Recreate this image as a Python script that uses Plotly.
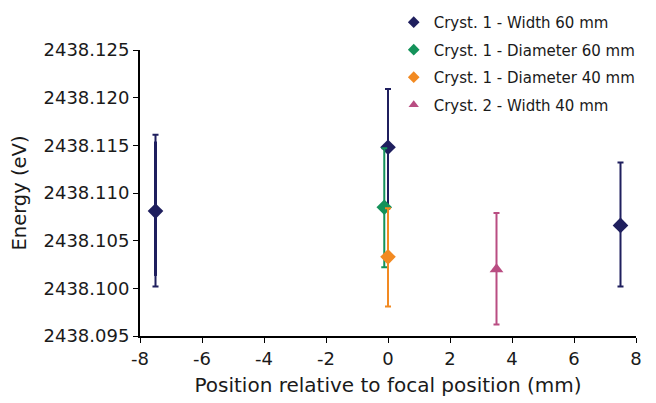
import plotly.graph_objects as go

# Data
w60_x = [-7.5, 0.0, 7.5]
w60_y = [2438.1081, 2438.1148, 2438.1066]
w60_err_plus = [0.0080, 0.0061, 0.0066]
w60_err_minus = [0.0079, 0.0063, 0.0064]
# inner (second) error bar at -7.5
w60_inner_x = [-7.5]
w60_inner_y = [2438.1081]
w60_inner_plus = [0.0073]
w60_inner_minus = [0.0068]

d60_x = [-0.12]
d60_y = [2438.1085]
d60_err_plus = [0.0062]
d60_err_minus = [0.0063]

d40_x = [0.0]
d40_y = [2438.1033]
d40_err_plus = [0.0051]
d40_err_minus = [0.0052]

c2w40_x = [3.5]
c2w40_y = [2438.1020]
c2w40_err_plus = [0.0059]
c2w40_err_minus = [0.0058]

series_names = ["Cryst. 1 - Width 60 mm", "Cryst. 1 - Diameter 60 mm",
                "Cryst. 1 - Diameter 40 mm", "Cryst. 2 - Width 40 mm"]

x_ticks = [-8, -6, -4, -2, 0, 2, 4, 6, 8]
x_ticktext = ["-8", "-6", "-4", "-2", "0", "2", "4", "6", "8"]
y_ticks = [2438.095, 2438.100, 2438.105, 2438.110, 2438.115, 2438.120, 2438.125]
y_ticktext = ["2438.095", "2438.100", "2438.105", "2438.110", "2438.115", "2438.120", "2438.125"]

NAVY = "#1f1f5e"
GREEN = "#14925a"
ORANGE = "#f28a22"
PINK = "#b94d82"

FONT = "DejaVu Sans, Verdana, sans-serif"

fig = go.Figure()

fig.add_trace(go.Scatter(
    x=w60_inner_x, y=w60_inner_y, mode="markers",
    marker=dict(size=1, color="rgba(0,0,0,0)"),
    error_y=dict(type="data", symmetric=False, array=w60_inner_plus, arrayminus=w60_inner_minus,
                 color=NAVY, thickness=3, width=0),
    showlegend=False, hoverinfo="skip"))

specs = [
    (w60_x, w60_y, w60_err_plus, w60_err_minus, NAVY, "diamond"),
    (d60_x, d60_y, d60_err_plus, d60_err_minus, GREEN, "diamond"),
    (d40_x, d40_y, d40_err_plus, d40_err_minus, ORANGE, "diamond"),
    (c2w40_x, c2w40_y, c2w40_err_plus, c2w40_err_minus, PINK, "triangle-up"),
]

for i, (xs, ys, ep, em, col, sym) in enumerate(specs):
    fig.add_trace(go.Scatter(
        x=xs, y=ys, mode="markers", name=series_names[i], showlegend=False,
        marker=dict(symbol=sym, size=12, color=col),
        error_y=dict(type="data", symmetric=False, array=ep, arrayminus=em,
                     color=col, thickness=2, width=3)))

# legend entries (smaller legend symbols, as in the original)
for i, (xs, ys, ep, em, col, sym) in enumerate(specs):
    fig.add_trace(go.Scatter(
        x=[None], y=[None], mode="markers", name=series_names[i], legendgroup=str(i),
        marker=dict(symbol=sym, size=9, color=col), hoverinfo="skip"))

fig.update_layout(
    width=656, height=403,
    margin=dict(l=132, r=28, t=42, b=75, autoexpand=False),
    paper_bgcolor="white", plot_bgcolor="white",
    font=dict(family=FONT, size=18, color="#1a1a1a"),
    legend=dict(x=0.588, y=1.154, xref="container", yref="paper", xanchor="left", yanchor="top",
                font=dict(size=15), bgcolor="rgba(0,0,0,0)", itemwidth=30, tracegroupgap=5,
                traceorder="grouped"),
    xaxis=dict(range=[-8, 8], tickvals=x_ticks, ticktext=x_ticktext, showgrid=False, zeroline=False,
               showline=True, linecolor="black", linewidth=2,
               ticks="outside", ticklen=5, tickcolor="black", tickwidth=1,
               title=dict(text="Position relative to focal position (mm)", font=dict(size=20), standoff=10)),
    yaxis=dict(range=[2438.095, 2438.125], tickvals=y_ticks, ticktext=y_ticktext,
               showgrid=False, zeroline=False,
               showline=True, linecolor="black", linewidth=2,
               ticks="outside", ticklen=5, tickcolor="black", tickwidth=1,
               title=dict(text="Energy (eV)", font=dict(size=19.5), standoff=16)),
)

fig.write_html("out.html")
